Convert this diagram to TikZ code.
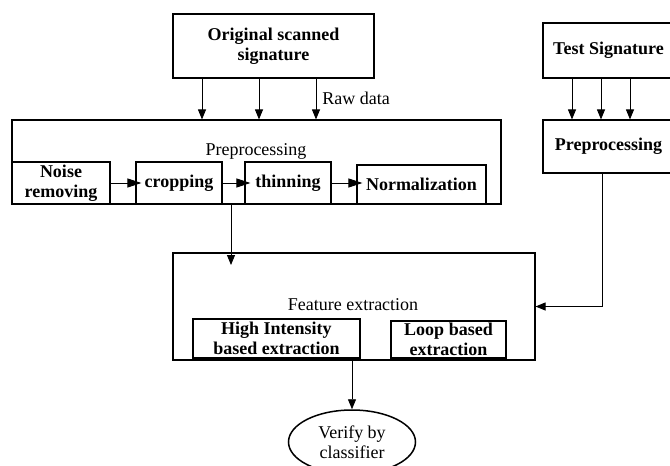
\documentclass[tikz,border=0pt]{standalone}
\usepackage{fontspec}
\setmainfont{Liberation Serif}
\usetikzlibrary{arrows.meta, positioning, shapes.geometric}

\begin{document}
\begin{tikzpicture}[
    x=1pt, y=-1pt,
    every node/.style={font=\fontsize{18}{20}\selectfont, inner sep=0pt, align=center},
    box/.style={draw, line width=1.1pt, rectangle, font=\fontsize{18}{20}\selectfont\bfseries},
    lbl/.style={},
    oval/.style={ellipse, draw, line width=1.5pt},
    arrow/.style={-{Triangle[length=10pt,width=8pt]}, line width=0.9pt},
    harrow/.style={-{Triangle[length=14pt,width=9pt]}, line width=0.9pt, shorten >=-6pt}
]
\useasboundingbox (0,0) rectangle (670,466);

% Nodes
\node[box, minimum width=201, minimum height=64] (orig) at (273.5,46) {Original scanned\\signature};
\node[lbl] (raw) at (356,98) {Raw data};
\node[box, font=\normalsize, minimum width=489, minimum height=84] (prep) at (256.5,162) {};
\node[lbl] (preplbl) at (256,151) {Preprocessing};
\node[box, minimum width=98, minimum height=42] (noise) at (61,183) {Noise\\removing};
\node[box, minimum width=86, minimum height=42] (crop) at (179,183) {cropping};
\node[box, minimum width=86, minimum height=42] (thin) at (288,183) {thinning};
\node[box, minimum width=129, minimum height=39] (norm) at (421.5,184.5) {Normalization};

\node[box, minimum width=131, minimum height=55] (test) at (608.5,50.5) {Test Signature};
\node[box, minimum width=131, minimum height=53] (tprep) at (608.5,146.5) {Preprocessing};

\node[box, font=\normalsize, minimum width=362, minimum height=107] (feat) at (354,306.5) {};
\node[lbl] (featlbl) at (353,305) {Feature extraction};
\node[box, minimum width=167, minimum height=39] (high) at (276.5,338.5) {High Intensity\\based extraction};
\node[box, minimum width=115, minimum height=37] (loop) at (448.5,339.5) {Loop based\\extraction};

\node[oval, minimum width=127, minimum height=64] (verify) at (352,442) {Verify by\\classifier};

\coordinate (featin) at (231,265);

% Arrows
\foreach \x in {202,259,316}
    \draw[arrow] (orig.south -| \x,0) -- (prep.north -| \x,0);
\foreach \x in {572,601,630}
    \draw[arrow] (test.south -| \x,0) -- (tprep.north -| \x,0);
\draw[harrow] (noise.east) -- (crop.west);
\draw[harrow] (crop.east) -- (thin.west);
\draw[harrow] (thin.east) -- (thin.east -| norm.west);
\draw[arrow] (prep.south -| featin) -- (featin);
\draw[arrow] (tprep.south -| 602,0) |- (feat.east);
\draw[arrow] (high.south -| verify.north) -- (verify.north);

\end{tikzpicture}
\end{document}
